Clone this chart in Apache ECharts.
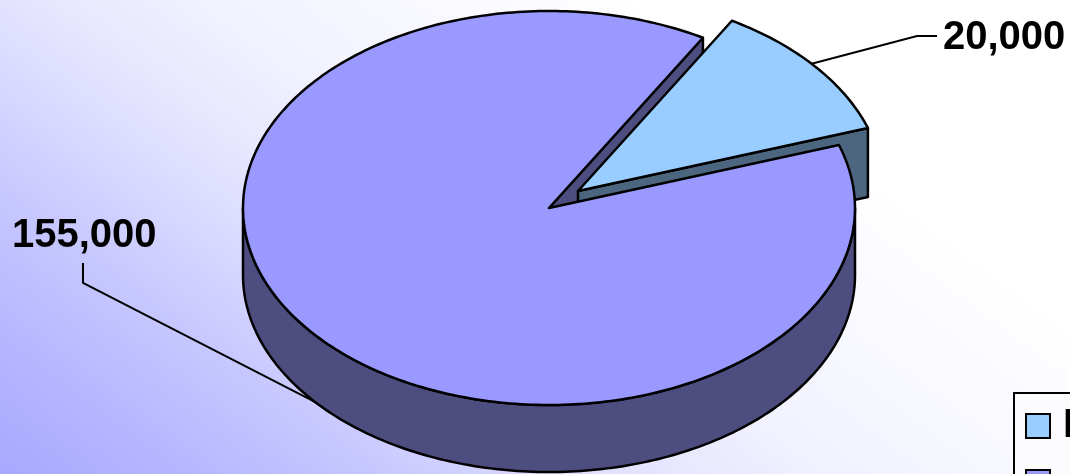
<!DOCTYPE html>
<html>
<head>
<meta charset="utf-8">
<style>html,body{margin:0;padding:0;background:#fff;overflow:hidden}#c{width:1070px;height:474px}</style>
<script src="https://cdn.jsdelivr.net/npm/echarts@6/dist/echarts.min.js"></script>
</head>
<body>
<div id="c"></div>
<script>
var categories = ['F', 'A'];
var values = [20000, 155000];
var labels = ['20,000', '155,000'];
var colors = ['#99CCFF', '#9999FF'];
var sideColors = ['#4D6680', '#4D4D80'];

var total = values[0] + values[1];
var wedgeStart = 59.8;                         // degrees, anticlockwise from east
var wedgeEnd = wedgeStart - values[0] / total * 360;
var mainEnd = wedgeStart + values[1] / total * 360;

var cx = 549, cy = 208, rx = 306, ry = 197, depth = 67;
var ox = 29, oy = -17;                         // explosion of the first slice
var FONT = 'bold 40px "Liberation Sans", Arial, sans-serif';
var STROKE = {stroke: '#000', lineWidth: 2.5, lineJoin: 'round'};

function pt(deg, x0, y0, dz) {
  var a = deg * Math.PI / 180;
  return [x0 + rx * Math.cos(a), y0 - ry * Math.sin(a) + (dz || 0)];
}
function arc(from, to, x0, y0, dz) {
  var n = Math.ceil(Math.abs(to - from)), out = [];
  for (var i = 0; i <= n; i++) out.push(pt(from + (to - from) * i / n, x0, y0, dz));
  return out;
}
function poly(points, fill) {
  return {type: 'polygon', shape: {points: points}, style: Object.assign({fill: fill}, STROKE)};
}
function line(points) {
  return {type: 'polyline', shape: {points: points},
    style: {stroke: '#000', lineWidth: 2, fill: null}};
}
function label(txt, x, y) {
  return {type: 'text', style: {text: txt, x: x, y: y, font: FONT, fill: '#000',
    textAlign: 'left', textVerticalAlign: 'middle'}};
}

function renderCutFace() {
  var rim = pt(wedgeStart, cx, cy);
  return poly([[cx, cy], rim, [rim[0], rim[1] + depth], [cx, cy + depth]], sideColors[1]);
}
function renderWedge() {
  var x0 = cx + ox, y0 = cy + oy;
  var rim = pt(wedgeEnd, x0, y0);
  var a = pt((wedgeStart + wedgeEnd) / 2 + 1, x0, y0);
  return {type: 'group', children: [
    poly([[x0, y0], rim, [rim[0], rim[1] + depth + 2], [x0, y0 + depth + 2]], sideColors[0]),
    poly([[x0, y0]].concat(arc(wedgeStart, wedgeEnd, x0, y0)), colors[0]),
    line([a, [917, 36], [937, 36]]),
    label(labels[0], 943, 38)
  ]};
}
function renderMain() {
  var a = pt((wedgeStart + mainEnd) / 2 + 1, cx, cy, depth);
  var wallTop = arc(180, 360, cx, cy);
  var wallBottom = arc(360, 180, cx, cy, depth);
  return {type: 'group', children: [
    poly(wallTop.concat(wallBottom), sideColors[1]),
    poly([[cx, cy]].concat(arc(wedgeStart, mainEnd, cx, cy)), colors[1]),
    line([a, [83, 283], [83, 263]]),
    label(labels[1], 12, 236)
  ]};
}

var option = {
  animation: false,
  graphic: [{
    type: 'rect', silent: true, z: -10, shape: {x: 0, y: 0, width: 1070, height: 474},
    style: {fill: {type: 'linear', x: 0, y: 474, x2: 456, y2: -134, global: true,
      colorStops: [
        {offset: 0, color: '#A8A8FF'}, {offset: 0.13, color: '#B4B4FF'},
        {offset: 0.29, color: '#C6C6FF'}, {offset: 0.46, color: '#DEDEFF'},
        {offset: 0.53, color: '#E6E6FF'}, {offset: 0.68, color: '#F3F3FF'},
        {offset: 1, color: '#FFFFFF'}]}}
  }],
  legend: {
    orient: 'vertical', left: 1014, top: 393, height: 300, selectedMode: false,
    padding: [13, 200, 60, 11], itemWidth: 24, itemHeight: 24, itemGap: 16,
    backgroundColor: '#FCFCFF', borderColor: '#000', borderWidth: 2,
    textStyle: {fontFamily: '"Liberation Sans", Arial, sans-serif', fontWeight: 'bold',
      fontSize: 40, color: '#000', padding: [0, 0, 0, 8]},
    data: [
      {name: categories[0], icon: 'rect', itemStyle: {color: colors[0], borderColor: '#000', borderWidth: 2}},
      {name: categories[1], icon: 'rect', itemStyle: {color: colors[1], borderColor: '#000', borderWidth: 2}}
    ]
  },
  series: [
    {type: 'custom', name: categories[1], coordinateSystem: 'none', z: 1, silent: true, data: [values[1]], renderItem: renderCutFace},
    {type: 'custom', name: categories[0], coordinateSystem: 'none', z: 2, silent: true, data: [values[0]], renderItem: renderWedge},
    {type: 'custom', name: categories[1], coordinateSystem: 'none', z: 3, silent: true, data: [values[1]], renderItem: renderMain}
  ]
};
echarts.init(document.getElementById('c'), null, {renderer: 'canvas'}).setOption(option);
</script>
</body>
</html>
